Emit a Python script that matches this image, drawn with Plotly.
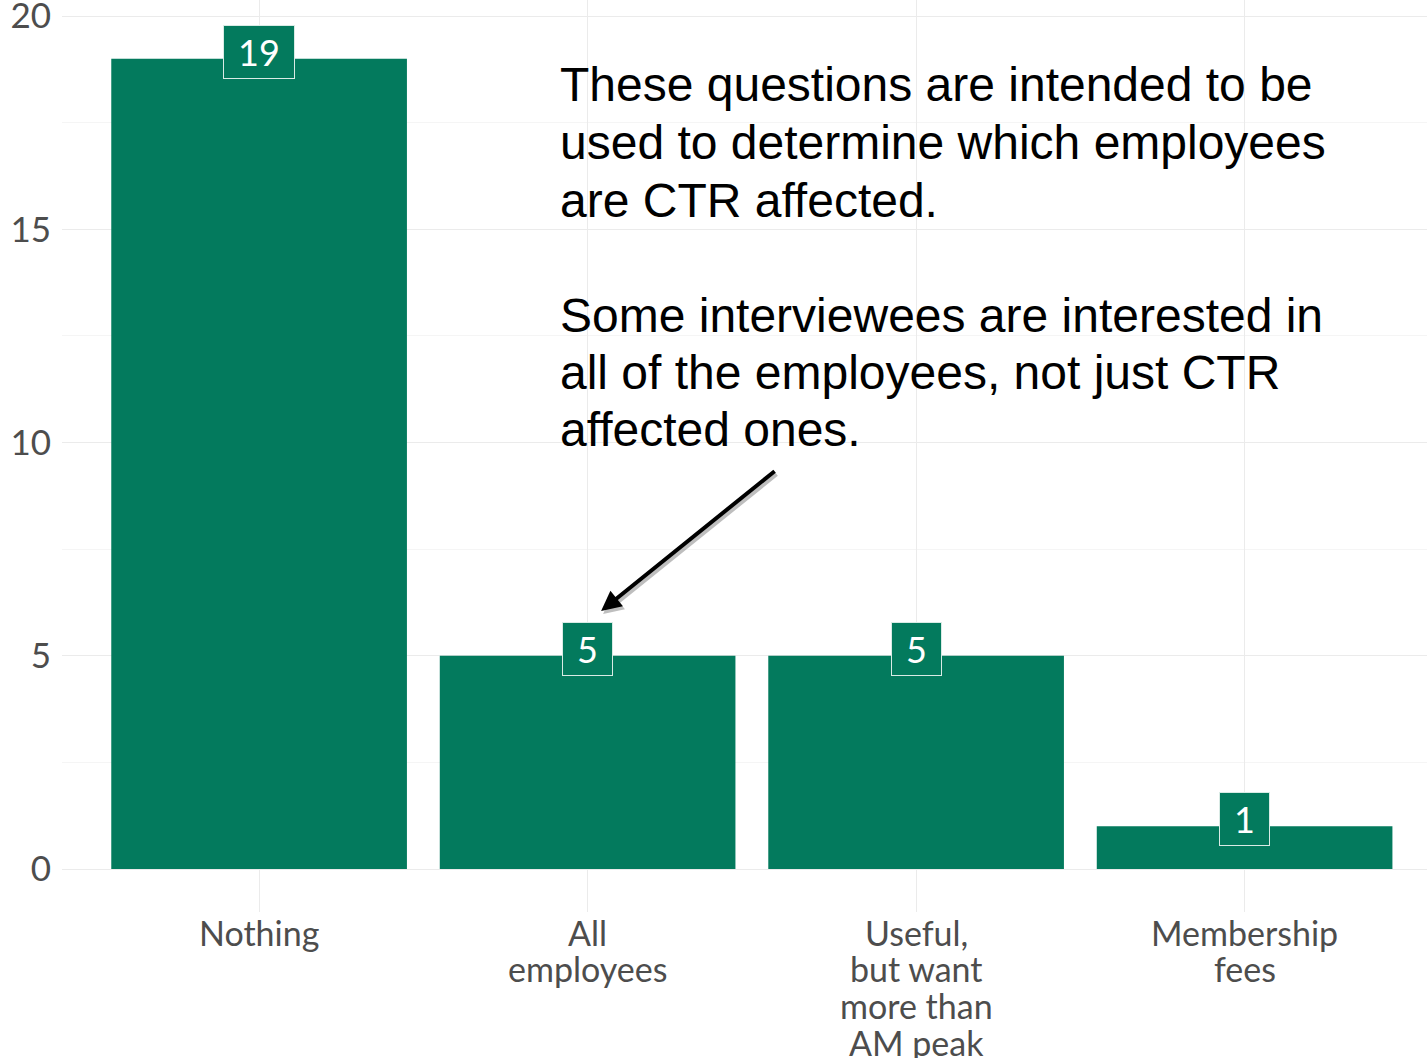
import plotly.graph_objects as go

categories = ["Nothing", "All\nemployees", "Useful,\nbut want\nmore than\nAM peak", "Membership\nfees"]
counts = [19, 5, 5, 1]
y_ticks = [0, 5, 10, 15, 20]
note_lines = [
    "These questions are intended to be",
    "used to determine which employees",
    "are CTR affected.",
    "",
    "Some interviewees are interested in",
    "all of the employees, not just CTR",
    "affected ones.",
]

BAR = "#037a5d"
PX_PER_UNIT = 42.65
UNIT_X = 328.5
W, H = 1427, 1058
L = 62
plot_w = W - L
plot_top_page = 0
plot_bottom_page = 912
plot_h = plot_bottom_page - plot_top_page

def page_to_paper_y(py):
    return (plot_bottom_page - py) / plot_h

def page_to_paper_x(px):
    return (px - L) / plot_w

def px_to_x(px):
    return (px - 259) / UNIT_X

def py_to_y(py):
    return (869 - py) / PX_PER_UNIT

fig = go.Figure()
fig.add_trace(go.Bar(x=categories, y=counts, width=0.9, marker=dict(color=BAR, line=dict(width=0)),
                     hoverinfo="skip", showlegend=False))

# value labels
for c, v in zip(categories, counts):
    s = str(v)
    fig.add_annotation(x=c, y=v, xref="x", yref="y", text=s, showarrow=False,
                       font=dict(family="Lato", size=36, color="white"),
                       bgcolor=BAR, bordercolor="#d9ebe5", borderwidth=1, borderpad=4,
                       width=20 + 21 * len(s), height=44, yanchor="middle", yshift=7)

# category (x tick) labels, one line each, tight line spacing like the reference
for c in categories:
    for j, line in enumerate(c.split("\n")):
        py = 932 + 36.7 * j
        fig.add_annotation(x=c, xref="x", y=page_to_paper_y(py), yref="paper",
                           text=line, showarrow=False, xanchor="center", yanchor="middle",
                           font=dict(family="Lato", size=34, color="#4d4d4d"))

# note text
y0 = 85
for i, line in enumerate(note_lines):
    if not line:
        continue
    py = y0 + 57.5 * i
    fig.add_annotation(x=page_to_paper_x(558), xref="paper", y=page_to_paper_y(py), yref="paper",
                       text=line, showarrow=False, xanchor="left", yanchor="middle",
                       font=dict(family="Arial, Liberation Sans", size=48, color="black"))

# arrow shadow + arrow
for dx, dy, col in [(2, 3, "rgba(0,0,0,0.25)"), (0, 0, "black")]:
    fig.add_annotation(x=px_to_x(601 + dx), y=py_to_y(611 + dy), xref="x", yref="y",
                       ax=px_to_x(776 + dx), ay=py_to_y(470 + dy), axref="x", ayref="y",
                       text="", showarrow=True, arrowhead=2, arrowsize=1.0, arrowwidth=4,
                       arrowcolor=col)

x_lo = -0.6
x_hi = x_lo + plot_w / UNIT_X
y_lo = py_to_y(plot_bottom_page)
y_hi = py_to_y(plot_top_page)

fig.update_layout(
    width=W, height=H,
    margin=dict(l=L, r=0, t=0, b=H - plot_h, pad=0),
    plot_bgcolor="white", paper_bgcolor="white",
    bargap=0.1,
    xaxis=dict(type="category", range=[x_lo, x_hi], showgrid=True, gridcolor="#ebebeb", gridwidth=1.2,
               zeroline=False, showline=False, ticks="", showticklabels=False, automargin=False),
    yaxis=dict(range=[y_lo, y_hi], tickvals=y_ticks, showgrid=True, gridcolor="#ebebeb", gridwidth=1.2,
               zeroline=False, showline=False, ticks="", ticklabelstandoff=10, automargin=False,
               ticklabeloverflow="allow",
               tickfont=dict(family="Lato", size=35, color="#4d4d4d"),
               minor=dict(dtick=2.5, tick0=0, showgrid=True, gridcolor="#f5f5f5", gridwidth=1)),
    font=dict(family="Lato"),
)

fig.write_html("out.html", config={"displayModeBar": False},
               post_script="document.body.style.margin='0';document.body.style.overflow='hidden';")
